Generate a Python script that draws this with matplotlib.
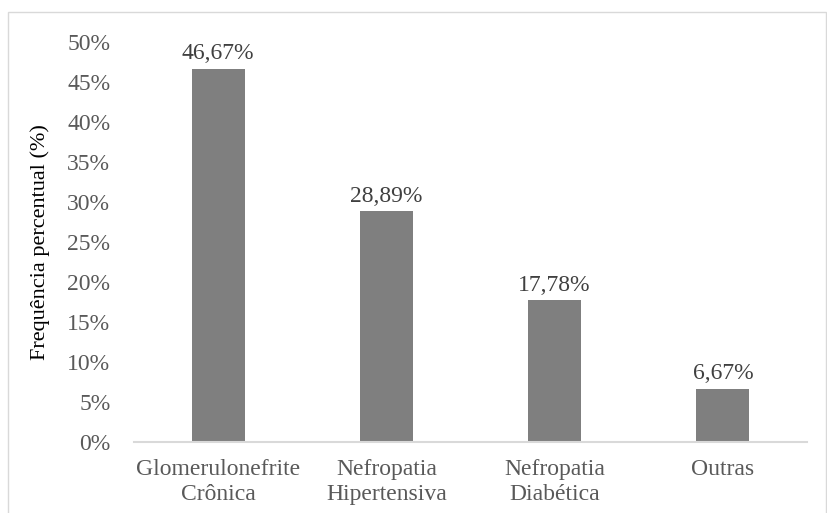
import matplotlib
matplotlib.use("Agg")
import matplotlib.pyplot as plt
from matplotlib.patches import Rectangle
from matplotlib.ticker import FuncFormatter

categorias = ["Glomerulonefrite\nCrônica", "Nefropatia\nHipertensiva",
              "Nefropatia\nDiabética", "Outras"]
frequencias = [46.67, 28.89, 17.78, 6.67]
rotulos = ["46,67%", "28,89%", "17,78%", "6,67%"]
y_ticks = [0, 5, 10, 15, 20, 25, 30, 35, 40, 45, 50]

plt.rcParams['font.family'] = ['Liberation Serif', 'DejaVu Serif']

fig = plt.figure(figsize=(8.28, 5.13), dpi=100)
ax = fig.add_axes([0.1618, 0.1384, 0.8128, 0.7797])

# moldura cinza clara em volta do gráfico
fig.patches.append(Rectangle((8 / 828, -0.05), 818 / 828, 1.05 - 12 / 513,
                             transform=fig.transFigure, fill=False,
                             edgecolor="#d9d9d9", linewidth=1.0))

x = range(len(categorias))
barras = ax.bar(x, frequencias, width=0.315, color="#7f7f7f", zorder=2)

for b, txt in zip(barras, rotulos):
    ax.annotate(txt, (b.get_x() + b.get_width() / 2, b.get_height()),
                xytext=(0, 3), textcoords="offset points",
                ha="center", va="bottom", fontsize=17, color="#404040")

ax.set_xlim(-0.5, len(categorias) - 0.5)
ax.set_ylim(0, 50)
ax.set_yticks(y_ticks)
ax.yaxis.set_major_formatter(FuncFormatter(lambda v, p: f"{v:.0f}%"))
ax.set_xticks(list(x))
ax.set_xticklabels(categorias, linespacing=1.3)

ax.tick_params(axis="y", length=0, pad=17, labelsize=17, labelcolor="#595959")
ax.tick_params(axis="x", length=0, pad=12, labelsize=17, labelcolor="#595959")

for s in ["top", "right", "left"]:
    ax.spines[s].set_visible(False)
ax.spines["bottom"].set_color("#d9d9d9")
ax.spines["bottom"].set_linewidth(1.5)

ax.set_ylabel("Frequência percentual (%)", fontsize=16, color="black")
ax.yaxis.set_label_coords(-0.125, 0.5)

fig.savefig("out.png", dpi=100)
